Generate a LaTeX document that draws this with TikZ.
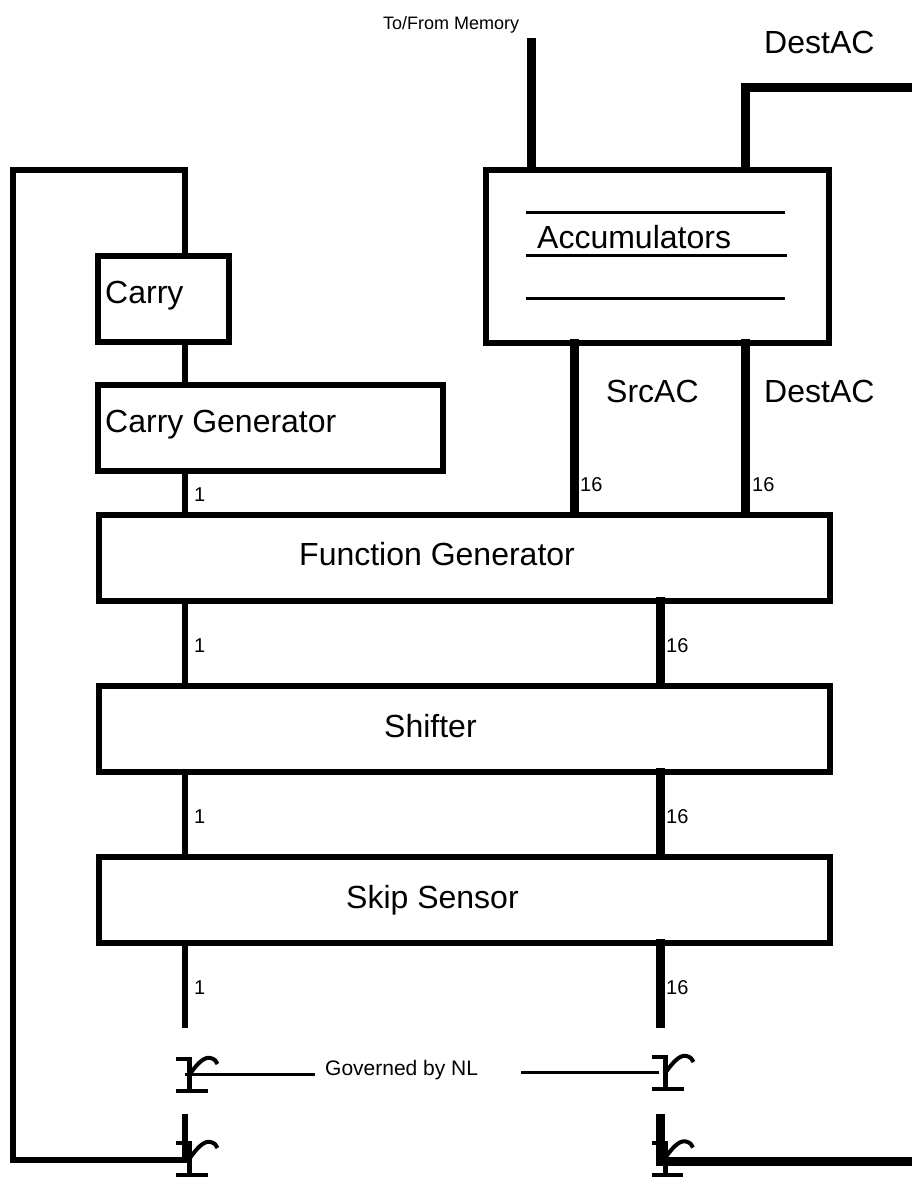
\documentclass[tikz,border=0pt]{standalone}
\usepackage{fontspec}
\setmainfont{Liberation Sans}
\usepackage{tikz}
\tikzstyle{block} = [rectangle, draw=black, line width=6pt, inner sep=0pt, outer sep=0pt]
\tikzstyle{wideblock} = [block, minimum width=731pt, minimum height=86pt]
\tikzstyle{biglabel} = [inner sep=0pt, anchor=base west, font=\fontsize{32}{36}\selectfont]
\tikzstyle{widthlabel} = [inner sep=0pt, anchor=base west, font=\fontsize{20}{24}\selectfont]
\tikzstyle{memlabel} = [inner sep=0pt, anchor=base west, font=\fontsize{18}{22}\selectfont]
\tikzstyle{govlabel} = [inner sep=0pt, anchor=base west, font=\fontsize{21}{25}\selectfont]
\tikzstyle{onebit} = [line width=6pt, line cap=rect]
\tikzstyle{bus} = [line width=9pt, line cap=rect]
\tikzstyle{busin} = [bus, shorten >=4.5pt]
\tikzstyle{hair} = [line width=3pt]
\newcommand{\switchmark}[1]{
  \begin{scope}[shift={(#1)}]
    \draw [line width=4pt] (-13.5,0) -- (2,0);
    \draw [line width=5pt] (0,-2) -- (0,34);
    \draw [line width=4pt] (-13.5,32) -- (18,32);
    \draw [line width=4pt] (-1,17) .. controls (6,7) and (14,-3) .. (21,-1) .. controls (25,0) and (27,2) .. (28,5);
  \end{scope}
}

\begin{document}
\begin{tikzpicture}[x=1pt, y=-1pt]
        \useasboundingbox (0,0) rectangle (912,1178);

        \coordinate (lowbit) at (185,0);
        \coordinate (highbit) at (660,0);
        \coordinate (membus) at (531,0);
        \coordinate (srcbus) at (574,0);
        \coordinate (destbus) at (745,0);

        \node (accum) [block, minimum width=343pt, minimum height=173pt] at (657.5,256.5) {};
        \node (carry) [block, minimum width=131pt, minimum height=86pt] at (163.5,299) {};
        \node (carrygen) [block, minimum width=345pt, minimum height=86pt] at (270.5,428) {};
        \node (fngen) [wideblock] at (464.5,558) {};
        \node (shifter) [wideblock, below of=fngen, node distance=171pt] {};
        \node (skip) [wideblock, below of=shifter, node distance=171pt] {};

        \node (carrytext) [biglabel] at (105,303) {Carry};
        \node (gentext) [biglabel] at (105,432) {Carry Generator};
        \node (fntext) [biglabel] at (299,565) {Function Generator};
        \node (shifttext) [biglabel] at (384,737) {Shifter};
        \node (skiptext) [biglabel] at (346,908) {Skip Sensor};
        \node (acctext) [biglabel] at (537,248) {Accumulators};
        \node (srctext) [biglabel] at (606,402) {SrcAC};
        \node (desttext) [biglabel] at (764,402) {DestAC};
        \node (toptext) [biglabel] at (764,53) {DestAC};
        \node (memtext) [memlabel] at (383,29.5) {To/From Memory};
        \node (govtext) [govlabel] at (325,1075) {Governed by NL};

        \node (widthc) [widthlabel] at (194,501) {1};
        \node (widtha) [widthlabel] at (580,491) {16};
        \node (widthb) [widthlabel] at (752,491) {16};
        \node (widthd) [widthlabel] at (194,652.5) {1};
        \node (widthe) [widthlabel] at (666,652.5) {16};
        \node (widthf) [widthlabel] at (194,823.5) {1};
        \node (widthg) [widthlabel] at (666,823.5) {16};
        \node (widthh) [widthlabel] at (194,994.5) {1};
        \node (widthi) [widthlabel] at (666,994.5) {16};

        % accumulator registers
        \coordinate (rega) at (526,212.5);
        \coordinate (regb) at (526,255.5);
        \coordinate (regc) at (526,298.5);
        \draw [hair] (rega) -- ++(259,0);
        \draw [hair] (regb) -- ++(261,0);
        \draw [hair] (regc) -- ++(259,0);

        \coordinate (memend) at (531,42);
        \coordinate (destbend) at (745,87);
        \coordinate (destend) at (920,87);
        \draw [busin] (memend) -- (accum.north -| membus);
        \draw [busin] (destend) -- (destbend) -- (accum.north -| destbus);
        \draw [busin] (accum.south -| srcbus) -- (fngen.north -| srcbus);
        \draw [busin] (accum.south -| destbus) -- (fngen.north -| destbus);

        \draw [onebit] (carry.south -| lowbit) -- (carrygen.north -| lowbit);
        \draw [onebit] (carrygen.south -| lowbit) -- (fngen.north -| lowbit);
        \draw [onebit] (fngen.south -| lowbit) -- (shifter.north -| lowbit);
        \draw [onebit] (shifter.south -| lowbit) -- (skip.north -| lowbit);
        \draw [busin] (fngen.south -| highbit) -- (shifter.north -| highbit);
        \draw [busin] (shifter.south -| highbit) -- (skip.north -| highbit);

        \coordinate (lowstub) at (185,1025);
        \coordinate (highstub) at (660,1023.5);
        \draw [onebit] (skip.south -| lowbit) -- (lowstub);
        \draw [bus] (skip.south -| highbit) -- (highstub);

        \switchmark{189.5,1059}
        \switchmark{665.5,1057}
        \switchmark{189.5,1143}
        \switchmark{665,1142.5}

        \coordinate (lowin) at (185,1117);
        \coordinate (highin) at (660,1118.5);
        \coordinate (loopend) at (185,1160);
        \coordinate (highend) at (660,1161.5);
        \coordinate (highout) at (920,1161.5);
        \coordinate (loopa) at (13,170);
        \coordinate (loopb) at (13,1160);
        \draw [onebit] (lowin) -- (loopend);
        \draw [bus] (highin) -- (highend) -- (highout);
        \draw [onebit] (carry.north -| lowbit) -- (lowbit |- loopa) -- (loopa) -- (loopb) -- (loopend);

        % governed by NL
        \coordinate (govl) at (315,1074);
        \coordinate (govr) at (521,1072);
        \coordinate (swl) at (185,1074);
        \coordinate (swr) at (659,1072);
        \draw [hair] (swl) -- (govl);
        \draw [hair] (govr) -- (swr);
\end{tikzpicture}
\end{document}
